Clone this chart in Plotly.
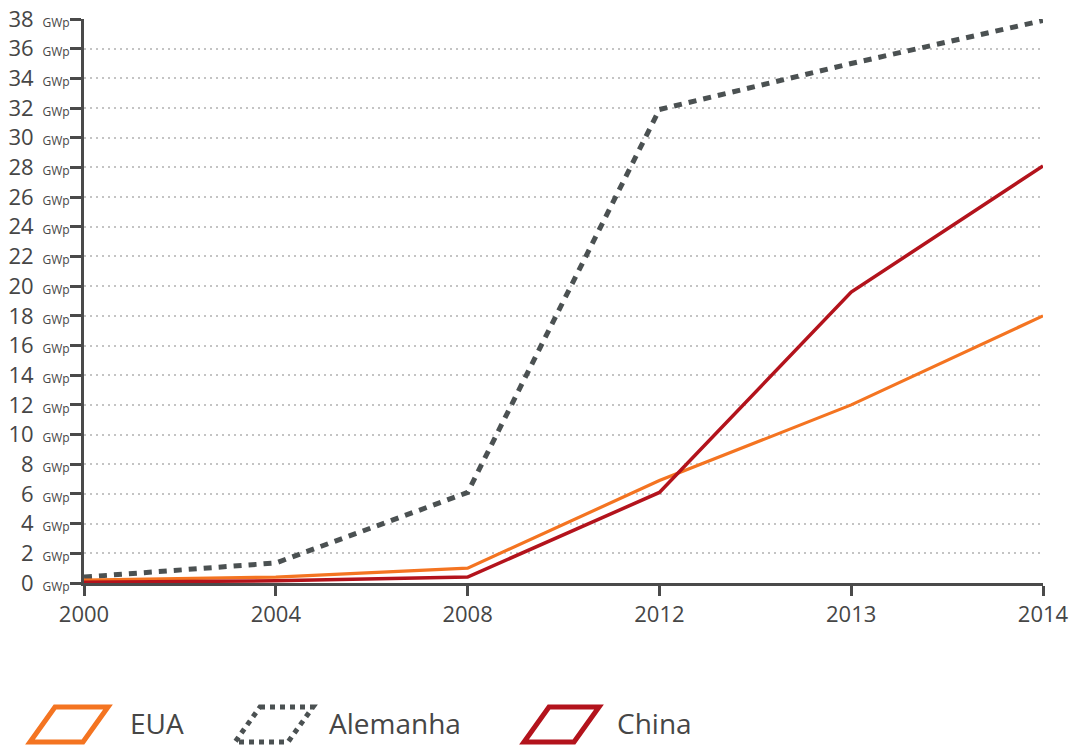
import plotly.graph_objects as go

years = ["2000", "2004", "2008", "2012", "2013", "2014"]
eua = [0.2, 0.4, 1.0, 6.9, 12.0, 18.0]
alemanha = [0.4, 1.35, 6.1, 31.9, 35.0, 37.9]
china = [0.05, 0.15, 0.4, 6.1, 19.6, 28.1]
series_names = ["EUA", "Alemanha", "China"]
y_ticks = list(range(0, 39, 2))
unit = "GWp"

C_EUA = "#f47421"
C_ALE = "#4b5152"
C_CHN = "#b3131c"
TXT = "#464646"
FONT = "Open Sans"

W, H = 1074, 745
L, R, T, B = 84, 31, 19, 162
pw, ph = W - L - R, H - T - B

def px(x):
    return (x - L) / pw

def py(y):
    return (H - B - y) / ph

fig = go.Figure()
fig.add_trace(go.Scatter(x=years, y=alemanha, mode="lines", name=series_names[1],
                         line=dict(color=C_ALE, width=5, dash="8px,7px"), cliponaxis=False))
fig.add_trace(go.Scatter(x=years, y=eua, mode="lines", name=series_names[0],
                         line=dict(color=C_EUA, width=3.2), cliponaxis=False))
fig.add_trace(go.Scatter(x=years, y=china, mode="lines", name=series_names[2],
                         line=dict(color=C_CHN, width=3.5), cliponaxis=False))

ticktext = [f"{v} <span style='font-size:12px'>&nbsp;{unit}</span>" for v in y_ticks]

fig.update_layout(
    width=W, height=H,
    margin=dict(l=L, r=R, t=T, b=B, pad=0, autoexpand=False),
    plot_bgcolor="white", paper_bgcolor="white",
    showlegend=False,
    font=dict(family=FONT, color=TXT),
    xaxis=dict(type="category", range=[0, 5], showgrid=False, zeroline=False,
               automargin=False,
               showline=True, linecolor="#4a4a4a", linewidth=3,
               ticks="outside", ticklen=10, tickwidth=2.5, tickcolor="#4a4a4a",
               tickfont=dict(size=22, color=TXT, family=FONT)),
    yaxis=dict(range=[0, 38], tickvals=y_ticks, ticktext=ticktext,
               automargin=False, ticklabelstandoff=-4,
               showgrid=True, gridcolor="#c4c4c4", gridwidth=2, griddash="2px,4px",
               zeroline=False, showline=True, linecolor="#4a4a4a", linewidth=3,
               ticks="outside", ticklen=11, tickwidth=3, tickcolor="#4a4a4a",
               tickfont=dict(size=22, color=TXT, family=FONT)),
)

# legend drawn manually (parallelogram icons cut at bottom edge)
icons = [
    (55, 108, 30, 83, C_EUA, None, 128, series_names[0]),
    (260, 313, 235, 288, C_ALE, "5px,5px", 327, series_names[1]),
    (549, 599, 524, 574, C_CHN, None, 615, series_names[2]),
]
ytop, ybot = 707, 742
for tl, tr, bl, br, col, dash, tx, label in icons:
    path = (f"M {px(tl)},{py(ytop)} L {px(tr)},{py(ytop)} L {px(br)},{py(ybot)} "
            f"L {px(bl)},{py(ybot)} Z")
    line = dict(color=col, width=5)
    if dash:
        line["dash"] = dash
    fig.add_shape(type="path", path=path, xref="paper", yref="paper", line=line,
                  fillcolor="rgba(0,0,0,0)")
    fig.add_annotation(x=px(tx), y=py(723), xref="paper", yref="paper", text=label,
                       showarrow=False, xanchor="left", yanchor="middle",
                       font=dict(size=28, color=TXT, family=FONT))

fig.write_html("out.html", config={"displayModeBar": False},
               post_script="document.body.style.margin='0';document.body.style.padding='0';"
                           "document.body.style.overflow='hidden';")
